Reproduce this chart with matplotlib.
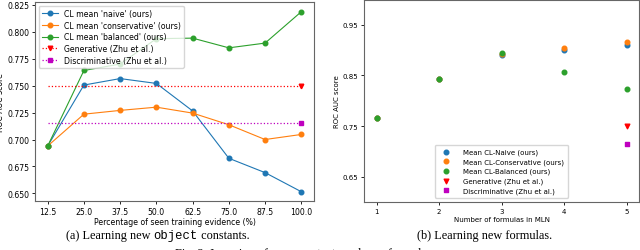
import numpy as np
import matplotlib.pyplot as plt

# left panel: learning new object constants
pct = [12.5, 25.0, 37.5, 50.0, 62.5, 75.0, 87.5, 100.0]
naive = [0.694, 0.7505, 0.7565, 0.752, 0.7265, 0.6826, 0.6693, 0.6516]
conservative = [0.694, 0.7235, 0.727, 0.730, 0.7245, 0.7137, 0.700, 0.7047]
balanced = [0.694, 0.764, 0.770, 0.7935, 0.794, 0.785, 0.7894, 0.8185]
generative = 0.750
discriminative = 0.715

# right panel: learning new formulas
n_formulas = [1, 2, 3, 4, 5]
naive_f = [0.766, 0.842, 0.890, 0.9005, 0.9105]
conservative_f = [0.766, 0.842, 0.892, 0.905, 0.916]
balanced_f = [0.766, 0.842, 0.894, 0.856, 0.824]
generative_f = 0.750
discriminative_f = 0.715

fs = 5.6
fs2 = 5.0
fig = plt.figure(figsize=(6.4, 2.51), dpi=100, facecolor='w')

ax = fig.add_axes([35/640, 1 - 202/251, 279/640, 199/251])
ax.plot(pct, naive, 'o-', color='C0', ms=3.3, lw=0.8, label="CL mean 'naive' (ours)")
ax.plot(pct, conservative, 'o-', color='C1', ms=3.3, lw=0.8, label="CL mean 'conservative' (ours)")
ax.plot(pct, balanced, 'o-', color='C2', ms=3.3, lw=0.8, label="CL mean 'balanced' (ours)")
ax.plot(pct, [generative]*len(pct), 'rv:', ms=3.3, lw=0.9, markevery=[-1],
        label='Generative (Zhu et al.)')
ax.plot(pct, [discriminative]*len(pct), 'ms:', ms=3.3, lw=0.9, markevery=[-1],
        label='Discriminative (Zhu et al.)')
ax.set_xticks(pct)
ax.set_xticklabels(['%.1f' % p for p in pct])
ax.set_yticks([0.650, 0.675, 0.700, 0.725, 0.750, 0.775, 0.800, 0.825])
ax.set_yticklabels(['%.3f' % v for v in ax.get_yticks()])
ax.set_ylim(0.643, 0.8275)
ax.set_xlabel('Percentage of seen training evidence (%)', fontsize=fs, labelpad=1)
ax.set_ylabel('ROC AUC score', fontsize=fs, labelpad=2)
ax.tick_params(labelsize=fs, length=2, width=0.6, pad=2)
ax.legend(loc='upper left', fontsize=fs, handlelength=2.0, borderpad=0.4,
          labelspacing=0.35, framealpha=0.8)

ax2 = fig.add_axes([364/640, 1 - 203/251, 275/640, 202.5/251])
ax2.scatter(n_formulas, naive_f, color='C0', s=11, label='Mean CL-Naive (ours)')
ax2.scatter(n_formulas, conservative_f, color='C1', s=11, label='Mean CL-Conservative (ours)')
ax2.scatter(n_formulas, balanced_f, color='C2', s=11, label='Mean CL-Balanced (ours)')
ax2.scatter([5], [generative_f], color='r', marker='v', s=11, label='Generative (Zhu et al.)')
ax2.scatter([5], [discriminative_f], color='m', marker='s', s=11, label='Discriminative (Zhu et al.)')
ax2.set_xlim(0.8, 5.2)
ax2.set_ylim(0.6, 1.0)
ax2.set_xticks(n_formulas)
ax2.set_yticks([0.65, 0.75, 0.85, 0.95])
ax2.set_xlabel('Number of formulas in MLN', fontsize=fs2, labelpad=2)
ax2.set_ylabel('ROC AUC score', fontsize=fs2, labelpad=2)
ax2.tick_params(labelsize=fs2, length=2, width=0.6, pad=2)
ax2.legend(loc='lower center', fontsize=fs2, borderpad=0.6, labelspacing=0.45,
           handletextpad=1.4, bbox_to_anchor=(0.5, 0.0), borderaxespad=0.6)

for a in (ax, ax2):
    for s in a.spines.values():
        s.set_color('0.4')
        s.set_linewidth(0.8)

serif = 'Liberation Serif'
cfs = 8.8
t1 = fig.text(66/640, 1 - 239/251, '(a) Learning new ', ha='left', va='baseline',
              fontsize=cfs, family=serif)
a2 = ax.annotate('object', xy=(1, 0), xycoords=t1, va='bottom', ha='left',
                 fontsize=cfs, family='Liberation Mono', annotation_clip=False)
ax.annotate(' constants.', xy=(1, 0), xycoords=a2, va='bottom', ha='left',
            fontsize=cfs, family=serif, annotation_clip=False)
fig.text(485/640, 1 - 239/251, '(b) Learning new formulas.', ha='center', va='baseline',
         fontsize=cfs, family=serif)
fig.text(175/640, 1 - 257/251, 'Fig. 2: Learning of new constants and new formulas.',
         ha='left', va='baseline', fontsize=cfs, family=serif)

fig.savefig('out.png', dpi=100)
